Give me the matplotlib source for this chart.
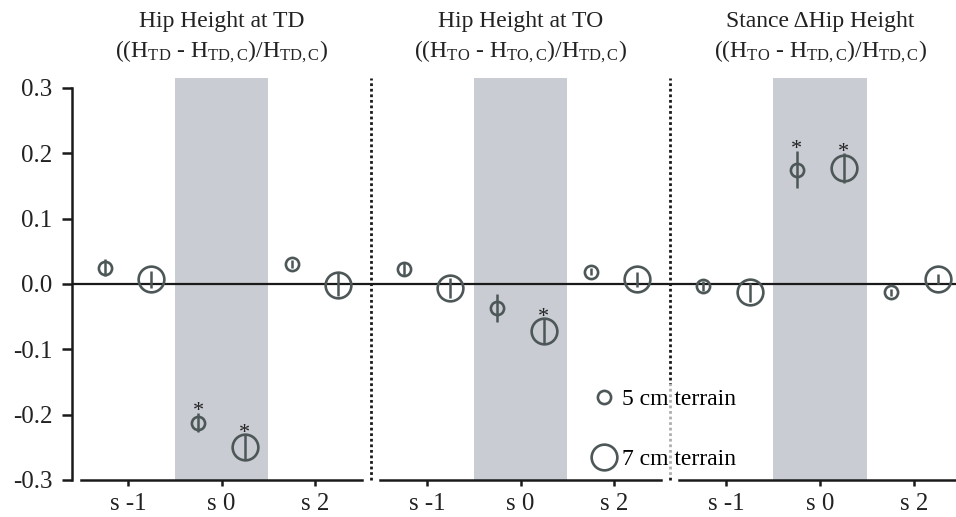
import matplotlib
matplotlib.use('Agg')
import matplotlib.pyplot as plt
from matplotlib.lines import Line2D

plt.rcParams['font.family'] = ['Liberation Serif', 'DejaVu Serif']
plt.rcParams['mathtext.fontset'] = 'custom'
plt.rcParams['mathtext.rm'] = 'Liberation Serif'
plt.rcParams['mathtext.it'] = 'Liberation Serif:italic'

categories = ['s -1', 's 0', 's 2']
titles = ['Hip Height at TD', 'Hip Height at TO', 'Stance \u0394Hip Height']
subtitles = [r'((H$_{\mathrm{TD}}$ - H$_{\mathrm{TD,C}}$)/H$_{\mathrm{TD,C}}$)',
             r'((H$_{\mathrm{TO}}$ - H$_{\mathrm{TO,C}}$)/H$_{\mathrm{TD,C}}$)',
             r'((H$_{\mathrm{TO}}$ - H$_{\mathrm{TD,C}}$)/H$_{\mathrm{TD,C}}$)']

# 5 cm terrain (small markers)
small_vals = [[0.025, -0.212, 0.031],
              [0.023, -0.037, 0.019],
              [-0.003, 0.175, -0.013]]
small_err = [[0.013, 0.014, 0.006],
             [0.009, 0.021, 0.005],
             [0.007, 0.028, 0.005]]
small_sig = [[False, True, False],
             [False, False, False],
             [False, True, False]]

# 7 cm terrain (large markers)
large_vals = [[0.007, -0.249, -0.001],
              [-0.006, -0.072, 0.007],
              [-0.013, 0.177, 0.008]]
large_err = [[0.013, 0.020, 0.018],
             [0.015, 0.020, 0.011],
             [0.015, 0.023, 0.008]]
large_sig = [[False, True, False],
             [False, True, False],
             [False, True, False]]

mcol = '#4d5757'
shade = '#c9ccd3'
W, H = 956, 517

fig = plt.figure(figsize=(W / 100, H / 100), dpi=100)

ax_left = [72, 371, 670]
ax_w = [299, 299, 286]
y_bot, y_top = 480, 77.5
xlims = [(-0.6, 2.6), (-0.6, 2.6), (-0.6, -0.6 + 286 / 94)]

axes = []
for i in range(3):
    ax = fig.add_axes([ax_left[i] / W, (H - y_bot) / H, ax_w[i] / W, (y_bot - y_top) / H])
    axes.append(ax)
    ax.set_xlim(*xlims[i])
    ax.set_ylim(-0.3, 0.316)
    ax.patch.set_visible(False)
    for s in ['top', 'right']:
        ax.spines[s].set_visible(False)
    ax.spines['bottom'].set_bounds(-0.5, 2.5)
    ax.spines['bottom'].set_linewidth(1.8)
    ax.spines['bottom'].set_color('#1a1a1a')

    ax.axvspan(0.5, 1.5, color=shade, lw=0, zorder=0)
    ax.axhline(0, color='#1a1a1a', lw=1.6, zorder=1)
    if i < 2:
        ax.axvline(xlims[i][1], color='#1a1a1a', lw=2, ls=(0, (1, 1)), clip_on=False, zorder=1)

    x = list(range(len(categories)))
    xs = [v - 0.25 for v in x]
    xl = [v + 0.25 for v in x]
    ax.errorbar(xs, small_vals[i], yerr=small_err[i], fmt='o', ms=9.5, mfc='none',
                mec=mcol, mew=1.9, ecolor=mcol, elinewidth=1.8, capsize=0, zorder=3)
    ax.errorbar(xl, large_vals[i], yerr=large_err[i], fmt='o', ms=18.5, mfc='none',
                mec=mcol, mew=1.9, ecolor=mcol, elinewidth=1.8, capsize=0, zorder=3)
    for j in x:
        if small_sig[i][j]:
            ax.annotate('*', (xs[j], small_vals[i][j] + small_err[i][j]), xytext=(0, -2),
                        textcoords='offset points', ha='center', va='baseline',
                        fontsize=16, color='#222222')
        if large_sig[i][j]:
            ax.annotate('*', (xl[j], large_vals[i][j] + large_err[i][j]), xytext=(0, -3),
                        textcoords='offset points', ha='center', va='baseline',
                        fontsize=16, color='#222222')

    ax.set_xticks(x)
    ax.set_xticklabels(categories)
    ax.tick_params(axis='x', length=4, width=1.8, pad=5, labelsize=18,
                   color='#1a1a1a', labelcolor='#222222')

    ax.text(1, 0.401, titles[i], ha='center', va='center', fontsize=17, color='#222222')
    ax.text(1, 0.355, subtitles[i], ha='center', va='center', fontsize=17, color='#222222')

    if i == 0:
        ax.spines['left'].set_bounds(-0.3, 0.3)
        ax.spines['left'].set_linewidth(1.8)
        ax.spines['left'].set_color('#1a1a1a')
        ax.set_yticks([0.3, 0.2, 0.1, 0.0, -0.1, -0.2, -0.3])
        ax.set_yticklabels(['0.3', '0.2', '0.1', '0.0', '-0.1', '-0.2', '-0.3'])
        ax.tick_params(axis='y', length=7, width=1.8, pad=7, labelsize=18,
                       color='#1a1a1a', labelcolor='#222222')
    else:
        ax.spines['left'].set_visible(False)
        ax.set_yticks([])

handles = [Line2D([], [], ls='none', marker='o', ms=9.5, mfc='none', mec=mcol, mew=1.9),
           Line2D([], [], ls='none', marker='o', ms=18.5, mfc='none', mec=mcol, mew=1.9)]
leg = axes[1].legend(handles, ['5 cm terrain', '7 cm terrain'], loc='upper left',
                     bbox_to_anchor=(0.725, 0.238), fontsize=17, handlelength=1.0,
                     handletextpad=0.25, labelspacing=1.62, borderpad=0.2, borderaxespad=0,
                     frameon=True, facecolor='white', edgecolor='none', framealpha=0.65,
                     fancybox=False)
leg.set_zorder(5)

fig.savefig('out.png', dpi=100)
